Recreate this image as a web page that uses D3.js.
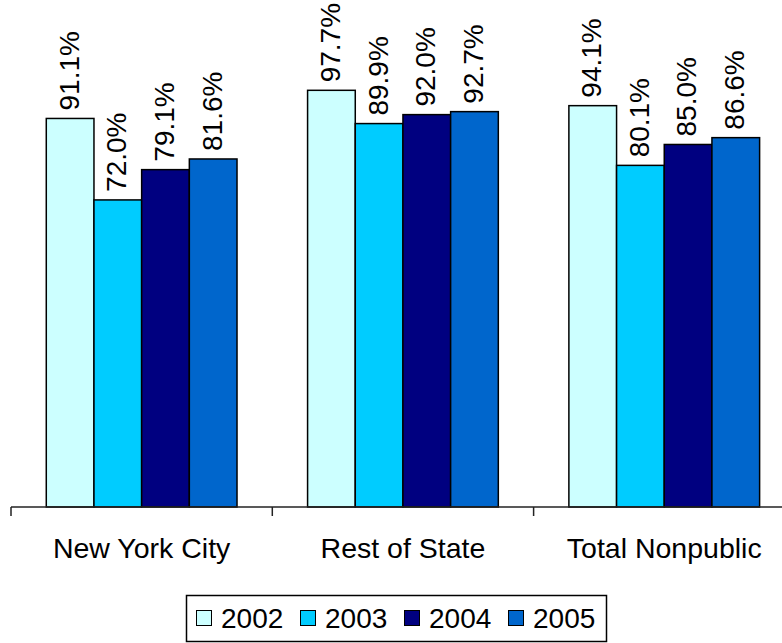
<!DOCTYPE html>
<html>
<head>
<meta charset="utf-8">
<script src="https://cdn.jsdelivr.net/npm/d3@7"></script>
<style>
  html, body { margin: 0; padding: 0; background: #fff; }
  svg { display: block; font-family: "Liberation Sans", Arial, sans-serif; }
</style>
</head>
<body>
<svg id="chart" width="782" height="643"></svg>
<script>
// Categories, series and values
const categories = ["New York City", "Rest of State", "Total Nonpublic"];
const years = ["2002", "2003", "2004", "2005"];
const values2002 = [91.1, 97.7, 94.1];
const values2003 = [72.0, 89.9, 80.1];
const values2004 = [79.1, 92.0, 85.0];
const values2005 = [81.6, 92.7, 86.6];
const colors = ["#CCFFFF", "#00CCFF", "#000080", "#0066CC"];

const seriesValues = [values2002, values2003, values2004, values2005];

const svg = d3.select("#chart");
const baseY = 507;
const fontSize = 28;

// One category band is 261 px wide; the axis runs past the right edge
const x0 = d3.scaleBand().domain(categories).range([11, 11 + 261.3 * 3]).paddingInner(0).paddingOuter(0);
const x1 = d3.scaleBand().domain(years).range([0, x0.bandwidth()]).paddingOuter(0.74).paddingInner(0);
const y = d3.scaleLinear().domain([0, 100]).range([baseY, 80.5]);

const rows = [];
categories.forEach((c, i) => {
  years.forEach((yr, j) => rows.push({ cat: c, year: yr, value: seriesValues[j][i], color: colors[j] }));
});

// Bars
svg.append("g").selectAll("rect").data(rows).join("rect")
  .attr("x", d => x0(d.cat) + x1(d.year))
  .attr("y", d => y(d.value))
  .attr("width", x1.bandwidth())
  .attr("height", d => baseY - y(d.value))
  .attr("fill", d => d.color)
  .attr("stroke", "#000")
  .attr("stroke-width", 1.5);

// Value labels, rotated
svg.append("g").selectAll("text").data(rows).join("text")
  .attr("transform", d => `translate(${x0(d.cat) + x1(d.year) + x1.bandwidth() / 2},${y(d.value) - 8}) rotate(-90)`)
  .attr("dy", "0.3em")
  .attr("text-anchor", "start")
  .attr("font-size", fontSize)
  .attr("fill", "#000")
  .text(d => d.value.toFixed(1) + "%");

// Category axis
const axis = d3.axisBottom(x0).tickSize(0).tickFormat("");
const gx = svg.append("g").attr("transform", `translate(0,${baseY})`).call(axis);
gx.select(".domain").attr("stroke", "#222").attr("stroke-width", 1.5).attr("d", `M11,0H800`);
gx.selectAll(".tick").remove();
const boundaries = categories.map(c => x0(c)).concat([x0(categories[2]) + x0.bandwidth()]);
gx.selectAll("line.sep").data(boundaries).join("line")
  .attr("class", "sep")
  .attr("x1", d => d).attr("x2", d => d)
  .attr("y1", 0).attr("y2", 9)
  .attr("stroke", "#222").attr("stroke-width", 1.5);

svg.append("g").selectAll("text").data(categories).join("text")
  .attr("x", d => x0(d) + x0.bandwidth() / 2)
  .attr("y", 558)
  .attr("text-anchor", "middle")
  .attr("font-size", 28.5)
  .attr("fill", "#000")
  .text(d => d);

// Legend
const legend = svg.append("g");
legend.append("rect")
  .attr("x", 186.5).attr("y", 595.5).attr("width", 420).attr("height", 46)
  .attr("fill", "#fff").attr("stroke", "#000").attr("stroke-width", 1.5);
const items = legend.selectAll("g.item").data(years).join("g")
  .attr("class", "item")
  .attr("transform", (d, i) => `translate(${196 + i * 104},0)`);
items.append("rect")
  .attr("x", 0.5).attr("y", 610.5).attr("width", 15).attr("height", 15)
  .attr("fill", (d, i) => colors[i]).attr("stroke", "#000").attr("stroke-width", 1);
items.append("text")
  .attr("x", 25).attr("y", 628)
  .attr("font-size", fontSize)
  .attr("fill", "#000")
  .text(d => d);
</script>
</body>
</html>
